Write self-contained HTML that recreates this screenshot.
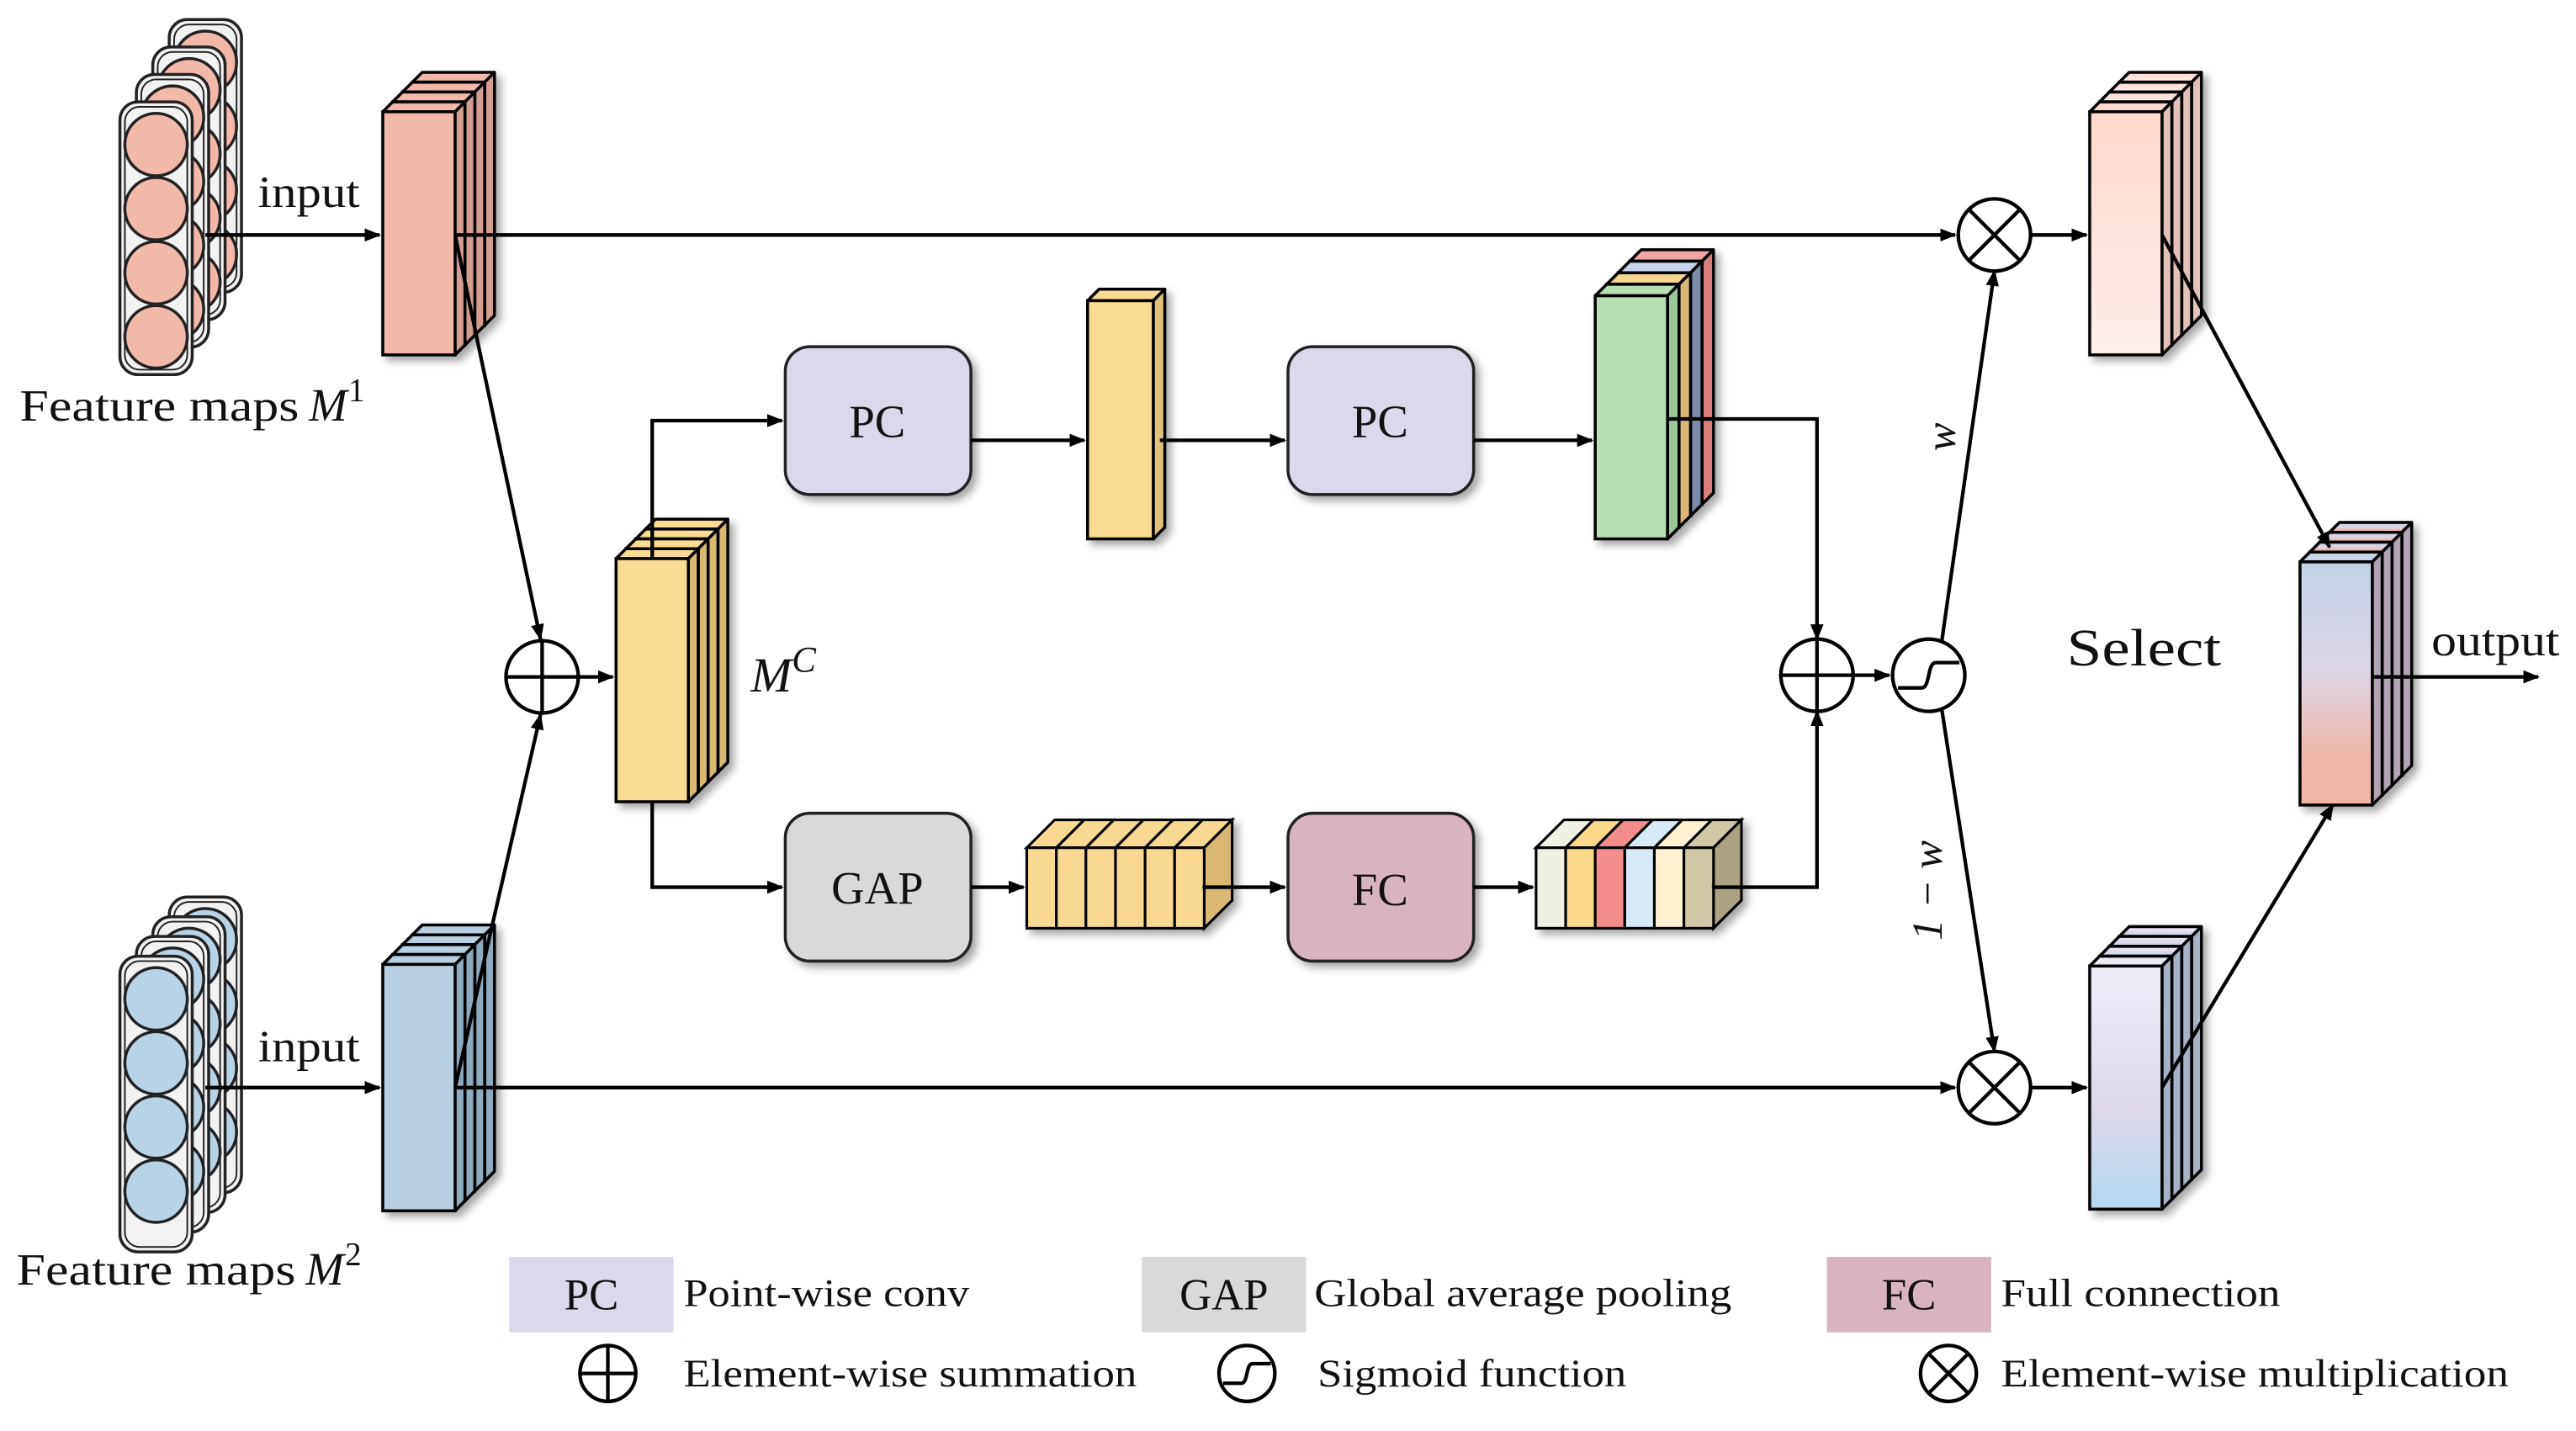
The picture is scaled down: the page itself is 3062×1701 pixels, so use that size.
<!DOCTYPE html>
<html><head><meta charset="utf-8">
<style>
html,body{margin:0;padding:0;background:#fff;}
svg{display:block;}
text{font-family:"Liberation Serif",serif;fill:#111;}
</style></head>
<body>
<svg id="s" width="3062" height="1701" viewBox="0 0 1568 871" xmlns="http://www.w3.org/2000/svg">
<defs>
<marker id="a" markerWidth="10" markerHeight="10" refX="9" refY="5" orient="auto" markerUnits="userSpaceOnUse">
<path d="M0,1 L10,5 L0,9 Z" fill="#000"/></marker>
<filter id="sh" x="-20%" y="-20%" width="150%" height="150%"><feDropShadow dx="3" dy="3" stdDeviation="2.5" flood-color="#000" flood-opacity="0.35"/></filter>
<linearGradient id="gTop" x1="0" y1="0" x2="0" y2="1"><stop offset="0" stop-color="#fcd8cc"/><stop offset="1" stop-color="#fdeeea"/></linearGradient>
<linearGradient id="gBot" x1="0" y1="0" x2="0" y2="1"><stop offset="0" stop-color="#eeedf7"/><stop offset="0.6" stop-color="#dcd8ea"/><stop offset="1" stop-color="#b5d9ef"/></linearGradient>
<linearGradient id="gOut" x1="0" y1="0" x2="0" y2="1"><stop offset="0" stop-color="#c2d3e6"/><stop offset="0.45" stop-color="#dcd6e6"/><stop offset="0.8" stop-color="#f0b8aa"/><stop offset="1" stop-color="#f2b6a6"/></linearGradient>
</defs>
<g id="shapes"></g>
<g id="lines" stroke="#000" stroke-width="2.2" fill="none">
<line x1="125" y1="143" x2="231" y2="143" marker-end="url(#a)"/>
<line x1="277" y1="143" x2="1190" y2="143" marker-end="url(#a)"/>
<line x1="1236" y1="143" x2="1270" y2="143" marker-end="url(#a)"/>
<line x1="277" y1="143" x2="329" y2="389" marker-end="url(#a)"/>
<line x1="277" y1="662" x2="329" y2="435" marker-end="url(#a)"/>
<line x1="125" y1="662" x2="231" y2="662" marker-end="url(#a)"/>
<line x1="277" y1="662" x2="1190" y2="662" marker-end="url(#a)"/>
<line x1="1236" y1="662" x2="1270" y2="662" marker-end="url(#a)"/>
<line x1="352" y1="412" x2="373" y2="412" marker-end="url(#a)"/>
<polyline points="397,340 397,256 476,256" marker-end="url(#a)"/>
<polyline points="397,488 397,540 476,540" marker-end="url(#a)"/>
<line x1="591" y1="268" x2="660" y2="268" marker-end="url(#a)"/>
<line x1="706" y1="268" x2="782" y2="268" marker-end="url(#a)"/>
<line x1="897" y1="268" x2="969" y2="268" marker-end="url(#a)"/>
<polyline points="1015,255 1106,255 1106,389" marker-end="url(#a)"/>
<line x1="591" y1="540" x2="623" y2="540" marker-end="url(#a)"/>
<line x1="732" y1="540" x2="782" y2="540" marker-end="url(#a)"/>
<line x1="897" y1="540" x2="933" y2="540" marker-end="url(#a)"/>
<polyline points="1042,540 1106,540 1106,433" marker-end="url(#a)"/>
<line x1="1128" y1="411" x2="1150" y2="411" marker-end="url(#a)"/>
<line x1="1182" y1="390" x2="1214" y2="165" marker-end="url(#a)"/>
<line x1="1182" y1="432" x2="1214" y2="640" marker-end="url(#a)"/>
<line x1="1316" y1="143" x2="1418" y2="333" marker-end="url(#a)"/>
<line x1="1316" y1="662" x2="1420" y2="490" marker-end="url(#a)"/>
<line x1="1444" y1="412" x2="1545" y2="412" marker-end="url(#a)"/>
</g>
<g id="ops" stroke="#000" stroke-width="2.2" fill="#fff"></g>
<g font-size="27">
<text x="157" y="126" textLength="62" lengthAdjust="spacingAndGlyphs">input</text>
<text x="157" y="646" textLength="62" lengthAdjust="spacingAndGlyphs">input</text>
<text x="12" y="256" textLength="170" lengthAdjust="spacingAndGlyphs">Feature maps</text>
<text x="188" y="256" font-style="italic" font-size="28">M</text><text x="212" y="244" font-size="20">1</text>
<text x="10" y="782" textLength="170" lengthAdjust="spacingAndGlyphs">Feature maps</text>
<text x="186" y="782" font-style="italic" font-size="28">M</text><text x="210" y="770" font-size="20">2</text>
<text x="457" y="421" font-size="30" font-style="italic">M<tspan font-size="22" dy="-12">C</tspan></text>
<text x="1480" y="399" textLength="78" lengthAdjust="spacingAndGlyphs">output</text>
<text x="1258" y="405" font-size="32" textLength="94" lengthAdjust="spacingAndGlyphs">Select</text>
<text x="534" y="266" font-size="28" text-anchor="middle">PC</text>
<text x="840" y="266" font-size="28" text-anchor="middle">PC</text>
<text x="534" y="550" font-size="28" text-anchor="middle">GAP</text>
<text x="840" y="551" font-size="28" text-anchor="middle">FC</text>
<text transform="translate(1190,266) rotate(-90)" font-size="26" font-style="italic" text-anchor="middle">w</text>
<text transform="translate(1182,542) rotate(-90)" font-size="26" font-style="italic" text-anchor="middle">1 − w</text>
</g>
<g font-size="24">
<rect x="310" y="765" width="100" height="46" fill="#dcd8eb"/>
<text x="360" y="797" text-anchor="middle" font-size="27">PC</text>
<text x="416" y="795" textLength="174" lengthAdjust="spacingAndGlyphs">Point-wise conv</text>
<rect x="695" y="765" width="100" height="46" fill="#d9d9d9"/>
<text x="745" y="797" text-anchor="middle" font-size="27">GAP</text>
<text x="800" y="795" textLength="254" lengthAdjust="spacingAndGlyphs">Global average pooling</text>
<rect x="1112" y="765" width="100" height="46" fill="#d8b4c0"/>
<text x="1162" y="797" text-anchor="middle" font-size="27">FC</text>
<text x="1218" y="795" textLength="170" lengthAdjust="spacingAndGlyphs">Full connection</text>
<text x="416" y="844" textLength="276" lengthAdjust="spacingAndGlyphs">Element-wise summation</text>
<text x="802" y="844" textLength="188" lengthAdjust="spacingAndGlyphs">Sigmoid function</text>
<text x="1218" y="844" textLength="309" lengthAdjust="spacingAndGlyphs">Element-wise multiplication</text>
</g>
</svg>
<script>
var NS="http://www.w3.org/2000/svg";
var S=document.getElementById("shapes"),O=document.getElementById("ops");
function el(p,t,a){var e=document.createElementNS(NS,t);for(var k in a)e.setAttribute(k,a[k]);p.appendChild(e);return e;}
function cub(g,x,y,w,h,d,fill,side,top){
 el(g,"polygon",{points:[x,y,x+d,y-d,x+w+d,y-d,x+w,y].join(" "),fill:top||fill,stroke:"#000","stroke-width":1.8,"stroke-linejoin":"round"});
 el(g,"polygon",{points:[x+w,y,x+w+d,y-d,x+w+d,y+h-d,x+w,y+h].join(" "),fill:side,stroke:"#000","stroke-width":1.8,"stroke-linejoin":"round"});
 el(g,"rect",{x:x,y:y,width:w,height:h,fill:fill,stroke:"#000","stroke-width":1.8});
}
function stack(x,y,w,h,n,st,fills,sides,tops){
 var g=el(S,"g",{filter:"url(#sh)"});
 for(var i=n-1;i>=0;i--){var f=fills[i]||fills[0],sd=sides[i]||sides[0];cub(g,x+i*st,y-i*st,w,h,st,f,sd,tops?(tops[i]||f):f);}
}
function cols(x,y,h,step,n,col){
 var g=el(S,"g",{});
 for(var i=n-1;i>=0;i--){var cx=x+i*10,cy=y-i*step;
  el(g,"rect",{x:cx,y:cy,width:44,height:h,rx:11,fill:"#f2f2f2",stroke:"#222","stroke-width":1.8});
  el(g,"rect",{x:cx+3,y:cy+3,width:38,height:h-6,rx:9,fill:"none",stroke:"#222","stroke-width":1});
  for(var j=0;j<4;j++){el(g,"circle",{cx:cx+22,cy:cy+26+j*39,r:19,fill:col,stroke:"#222","stroke-width":1.8});}
 }
}
cols(73,62,166,16.7,4,"#f2b8aa");
cols(73,582,180,12,4,"#b9d3e6");
stack(233,68,44,148,4,6,["#f2b9ab"],["#d39e92"]);
stack(233,587,44,150,4,6,["#b7cfe1"],["#8fa9bd"]);
stack(375,340,44,148,4,6,["#f9db92"],["#d7b96f"]);
stack(662,183,40,145,1,7,["#f9db92"],["#e0c27a"]);
stack(971,180,44,148,4,7,["#b8dfb4","#f5d48e","#c6d2ea","#f0a7a7"],["#9cc79a","#d9b775","#7d8bab","#d97b7b"]);
stack(1272,68,44,148,4,6,["url(#gTop)"],["#e3c2ba"],["#fbd9cf"]);
stack(1272,588,44,148,4,6,["url(#gBot)"],["#a6b3c7"],["#eceaf4"]);
stack(1400,342,44,148,4,6,["url(#gOut)"],["#b2a4b4"],["#c8d6e8"]);
[[478,211,"#dcd8eb"],[784,211,"#dcd8eb"],[478,495,"#d9d9d9"],[784,495,"#d8b4c0"]].forEach(function(b){
 el(S,"rect",{x:b[0],y:b[1],width:113,height:90,rx:15,fill:b[2],stroke:"#222","stroke-width":1.8,filter:"url(#sh)"});});
function vec(x,y,cw,h,d,cols,side){
 var g=el(S,"g",{filter:"url(#sh)"});var w=cw*cols.length;
 for(var i=0;i<cols.length;i++){el(g,"polygon",{points:[x+i*cw,y,x+i*cw+d,y-d,x+(i+1)*cw+d,y-d,x+(i+1)*cw,y].join(" "),fill:cols[i],stroke:"#000","stroke-width":1.6});}
 el(g,"polygon",{points:[x+w,y,x+w+d,y-d,x+w+d,y+h-d,x+w,y+h].join(" "),fill:side,stroke:"#000","stroke-width":1.6});
 for(var i=0;i<cols.length;i++){el(g,"rect",{x:x+i*cw,y:y,width:cw,height:h,fill:cols[i],stroke:"#000","stroke-width":1.6});}
}
vec(625,516,18,49,17,["#f9d891","#f9d891","#f9d891","#f9d891","#f9d891","#f9d891"],"#d9b872");
vec(935,516,18,49,17,["#f1f0e4","#fcd88a","#f38c8c","#d8eaf8","#fdf1d2","#cfc7a6"],"#aaa283");
function plus(cx,cy,r,parent){el(parent,"circle",{cx:cx,cy:cy,r:r});el(parent,"line",{x1:cx-r,y1:cy,x2:cx+r,y2:cy});el(parent,"line",{x1:cx,y1:cy-r,x2:cx,y2:cy+r});}
function times(cx,cy,r,parent){el(parent,"circle",{cx:cx,cy:cy,r:r});var k=r*0.707;el(parent,"line",{x1:cx-k,y1:cy-k,x2:cx+k,y2:cy+k});el(parent,"line",{x1:cx-k,y1:cy+k,x2:cx+k,y2:cy-k});}
function sig(cx,cy,r,parent){el(parent,"circle",{cx:cx,cy:cy,r:r});el(parent,"path",{d:"M"+(cx-r*0.85)+","+(cy+r*0.35)+" L"+(cx-r*0.2)+","+(cy+r*0.35)+" C"+(cx+0.05*r)+","+(cy+r*0.35)+" "+(cx-0.05*r)+","+(cy-r*0.35)+" "+(cx+r*0.2)+","+(cy-r*0.35)+" L"+(cx+r*0.85)+","+(cy-r*0.35),fill:"none"});}
plus(330,412,22,O);plus(1106,411,22,O);sig(1174,411,22,O);times(1214,143,22,O);times(1214,662,22,O);
plus(370,836,17,O);sig(759,836,17,O);times(1186,836,17,O);
</script>
</body></html>
